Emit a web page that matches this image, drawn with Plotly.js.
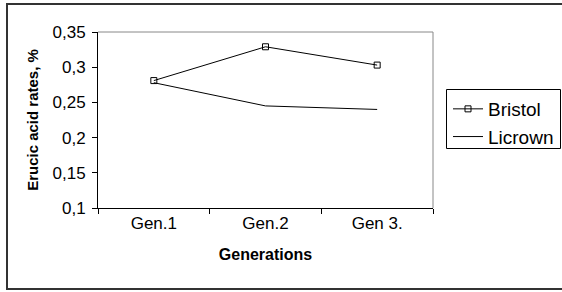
<!DOCTYPE html>
<html>
<head>
<meta charset="utf-8">
<script src="https://cdn.plot.ly/plotly-3.0.1.min.js"></script>
<style>
html,body{margin:0;padding:0;background:#fff;overflow:hidden;}
#wrap{position:relative;width:562px;height:292px;overflow:hidden;}
#chart{width:562px;height:292px;}
#frame{position:absolute;left:6px;top:3px;width:600px;height:283px;border:2px solid #333;border-right:none;pointer-events:none;}
</style>
</head>
<body>
<div id="wrap"><div id="chart"></div><div id="frame"></div></div>
<script>
const categories = ["Gen.1", "Gen.2", "Gen 3."];
const bristol = [0.281, 0.329, 0.303];
const licrown = [0.278, 0.245, 0.240];
const yTickVals = [0.1, 0.15, 0.2, 0.25, 0.3, 0.35];
const yTickText = ["0,1", "0,15", "0,2", "0,25", "0,3", "0,35"];

const L = 98, R = 433, T = 32, B = 208, W = 562, H = 292;
const pw = R - L, ph = B - T;
const px = v => (v - L) / pw;
const py = v => (B - v) / ph;

const font = "Liberation Sans, Arial, sans-serif";

const traces = [
  {x: categories, y: bristol, name: "Bristol", type: "scatter", mode: "lines+markers",
   line: {color: "#000", width: 1},
   marker: {symbol: "square-open", size: 6, color: "#000", line: {width: 1, color: "#000"}}},
  {x: categories, y: licrown, name: "Licrown", type: "scatter", mode: "lines",
   line: {color: "#000", width: 1}}
];

const layout = {
  width: W, height: H,
  margin: {l: L, r: W - R, t: T, b: H - B, pad: 0, autoexpand: false},
  paper_bgcolor: "#fff", plot_bgcolor: "#fff",
  font: {family: font, color: "#000"},
  showlegend: true,
  legend: {x: px(448), y: py(90), xanchor: "left", yanchor: "top",
    borderwidth: 0, bgcolor: "rgba(0,0,0,0)",
    font: {size: 19, family: font}, tracegroupgap: 0, itemwidth: 30},
  xaxis: {type: "category", range: [-0.5, 2.5], showline: true, linecolor: "#000", linewidth: 1,
    ticks: "outside", tickson: "boundaries", ticklen: 5, tickcolor: "#000",
    showgrid: false, zeroline: false, tickfont: {size: 17}, automargin: false,
    title: {text: "<b>Generations</b>", font: {size: 16}, standoff: 16}},
  yaxis: {range: [0.1, 0.35], showline: true, linecolor: "#000", linewidth: 1,
    ticks: "outside", ticklen: 5, tickcolor: "#000", ticklabelstandoff: 3,
    tickvals: yTickVals, ticktext: yTickText, automargin: false,
    showgrid: false, zeroline: false, tickfont: {size: 17},
    title: {text: "<b>Erucic acid rates, %</b>", font: {size: 15}, standoff: 10}},
  shapes: [
    {type: "line", xref: "paper", yref: "paper", x0: 0, x1: 1, y0: 1, y1: 1, line: {color: "#888", width: 1}},
    {type: "line", xref: "paper", yref: "paper", x0: 1, x1: 1, y0: 0, y1: 1, line: {color: "#888", width: 1}},
    {type: "rect", xref: "paper", yref: "paper", x0: px(446.5), x1: px(560.5), y0: py(148.5), y1: py(89.5), line: {color: "#000", width: 1}}
  ]
};

Plotly.newPlot("chart", traces, layout, {displayModeBar: false, staticPlot: true});
</script>
</body>
</html>
